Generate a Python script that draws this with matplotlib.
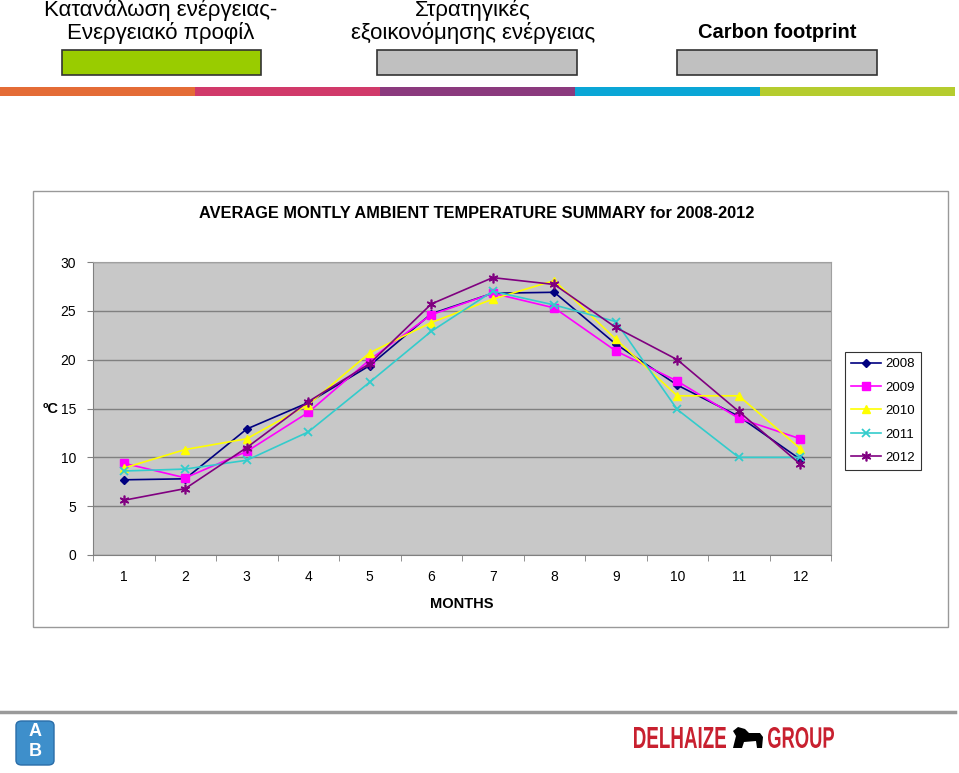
import matplotlib
matplotlib.use("Agg")
import matplotlib.pyplot as plt
from matplotlib.patches import Rectangle, FancyBboxPatch, PathPatch, Polygon
from matplotlib.lines import Line2D
from matplotlib.textpath import TextPath
from matplotlib.font_manager import FontProperties
from matplotlib.transforms import Affine2D, IdentityTransform

plt.rcParams["font.family"] = ["Liberation Sans", "DejaVu Sans"]

W, H = 959, 773

months = list(range(1, 13))
years = ["2008", "2009", "2010", "2011", "2012"]
t2008 = [7.7, 7.8, 12.9, 15.6, 19.4, 24.7, 26.8, 26.9, 21.6, 17.4, 14.2, 9.8]
t2009 = [9.4, 7.9, 10.6, 14.6, 20.0, 24.6, 26.8, 25.3, 20.9, 17.8, 14.0, 11.9]
t2010 = [8.9, 10.8, 11.9, 15.4, 20.7, 23.8, 26.2, 28.1, 22.1, 16.3, 16.3, 10.9]
t2011 = [8.6, 8.8, 9.7, 12.6, 17.7, 22.9, 27.0, 25.6, 23.9, 14.9, 10.0, 10.0]
t2012 = [5.6, 6.8, 11.0, 15.7, 19.6, 25.7, 28.4, 27.7, 23.3, 20.0, 14.7, 9.3]
series = [t2008, t2009, t2010, t2011, t2012]

styles = [
    dict(color="#000080", marker="D", ms=4.5),
    dict(color="#FF00FF", marker="s", ms=5.5),
    dict(color="#FFFF00", marker="^", ms=6),
    dict(color="#33CCCC", marker="x", ms=6, mew=1.3),
    dict(color="#800080", marker=(6, 2, 0), ms=7, mew=1.2),
]


def fx(x):
    return x / W


def fy(y):
    return 1 - y / H


def stretched_text(fig, s, x0, x1, ytop, ybot, color):
    # draw text squeezed into a pixel box (condensed logo lettering)
    tp = TextPath((0, 0), s, size=1, prop=FontProperties(family="Liberation Sans", weight="bold"))
    b = tp.get_extents()
    sx = (x1 - x0) / b.width
    sy = (ybot - ytop) / b.height
    tr = Affine2D().translate(-b.x0, -b.y0).scale(sx, sy).translate(x0, H - ybot)
    fig.add_artist(PathPatch(tr.transform_path(tp), transform=IdentityTransform(),
                             facecolor=color, edgecolor="none"))


fig = plt.figure(figsize=(W / 100, H / 100), dpi=100)

# --- header ---------------------------------------------------------------
fig.text(fx(161), fy(10), "Κατανάλωση ενέργειας-", ha="center", va="center", fontsize=16)
fig.text(fx(161), fy(33), "Ενεργειακό προφίλ", ha="center", va="center", fontsize=16)
fig.text(fx(473), fy(10), "Στρατηγικές", ha="center", va="center", fontsize=16)
fig.text(fx(473), fy(33), "εξοικονόμησης ενέργειας", ha="center", va="center", fontsize=16)
fig.text(fx(777), fy(33), "Carbon footprint", ha="center", va="center",
         fontsize=14.5, fontweight="bold")

for x0, x1, col in [(62, 261, "#99CC00"), (377, 577, "#C0C0C0"), (677, 877, "#C0C0C0")]:
    fig.add_artist(Rectangle((fx(x0), fy(75)), fx(x1 - x0), 25 / H, transform=fig.transFigure,
                             facecolor=col, edgecolor="#333333", lw=1.2))

band = [(0, 195, "#E46C36"), (195, 380, "#D13A6A"), (380, 575, "#8B3A7E"),
        (575, 760, "#0AA6D6"), (760, 955, "#B5CC2E")]
for x0, x1, col in band:
    fig.add_artist(Rectangle((fx(x0), fy(96)), fx(x1 - x0), 9 / H, transform=fig.transFigure,
                             facecolor=col, edgecolor="none"))

# --- chart frame ----------------------------------------------------------
fig.add_artist(Rectangle((fx(33), fy(627)), fx(948 - 33), (627 - 191) / H, transform=fig.transFigure,
                         facecolor="white", edgecolor="#999999", lw=1.0, zorder=0))
fig.text(fx(477), fy(214), "AVERAGE MONTLY AMBIENT TEMPERATURE SUMMARY for 2008-2012",
         ha="center", va="center", fontsize=11.8, fontweight="bold")

ax = fig.add_axes([fx(93), fy(555), fx(831 - 93), (555 - 262) / H])
ax.set_facecolor("#C8C8C8")
for yr, vals, st in zip(years, series, styles):
    ax.plot(months, vals, lw=1.2, label=yr, mec=st["color"], **st)

ax.set_xlim(0.5, 12.5)
ax.set_ylim(0, 30)
ax.set_yticks(range(0, 31, 5))
ax.set_xticks(months)
ax.set_xticks([m + 0.5 for m in range(0, 13)], minor=True)
ax.yaxis.grid(True, color="#808080", lw=1)
ax.set_axisbelow(True)
ax.tick_params(axis="both", labelsize=10, length=4, color="#808080")
ax.tick_params(axis="x", which="major", pad=11, length=0)
ax.tick_params(axis="x", which="minor", length=4, color="#808080")
ax.tick_params(axis="y", pad=8)
for s in ["top", "right"]:
    ax.spines[s].set_color("#A0A0A0")
for s in ["left", "bottom"]:
    ax.spines[s].set_color("#808080")
ax.set_xlabel("MONTHS", fontsize=10.5, fontweight="bold", labelpad=9)
fig.text(fx(51), fy(409), "ºC", ha="center", va="center", fontsize=10.5, fontweight="bold")

leg = ax.legend(loc="upper left", bbox_to_anchor=(fx(845), fy(352)), bbox_transform=fig.transFigure,
                fancybox=False, edgecolor="black", fontsize=9.5, handlelength=2.3,
                labelspacing=0.85, borderpad=0.45, handletextpad=0.3, borderaxespad=0)
leg.get_frame().set_linewidth(0.8)

# --- footer ---------------------------------------------------------------
fig.add_artist(Line2D([fx(0), fx(955)], [fy(712), fy(712)], transform=fig.transFigure,
                      color="#9A9A9A", lw=2.5))
fig.add_artist(FancyBboxPatch((fx(16), fy(765)), fx(38), 44 / H, boxstyle="round,pad=0,rounding_size=0.006",
                              transform=fig.transFigure, facecolor="#3E8FCB", edgecolor="#2A6DA8", lw=1))
fig.text(fx(35), fy(732), "A", ha="center", va="center", fontsize=13, fontweight="bold", color="white")
fig.text(fx(35), fy(752), "B", ha="center", va="center", fontsize=13, fontweight="bold", color="white")

stretched_text(fig, "DELHAIZE", 634, 726, 727, 748, "#C8202F")
stretched_text(fig, "GROUP", 768, 834, 727, 748, "#C8202F")
lion = [(733, 748), (736, 736), (733, 731), (738, 727), (745, 729), (749, 733), (760, 733),
        (763, 737), (762, 748), (757, 748), (756, 741), (744, 742), (742, 748)]
fig.add_artist(Polygon([(fx(x), fy(y)) for x, y in lion], closed=True, transform=fig.transFigure,
                       facecolor="black", edgecolor="none"))

fig.savefig("out.png", dpi=100)
